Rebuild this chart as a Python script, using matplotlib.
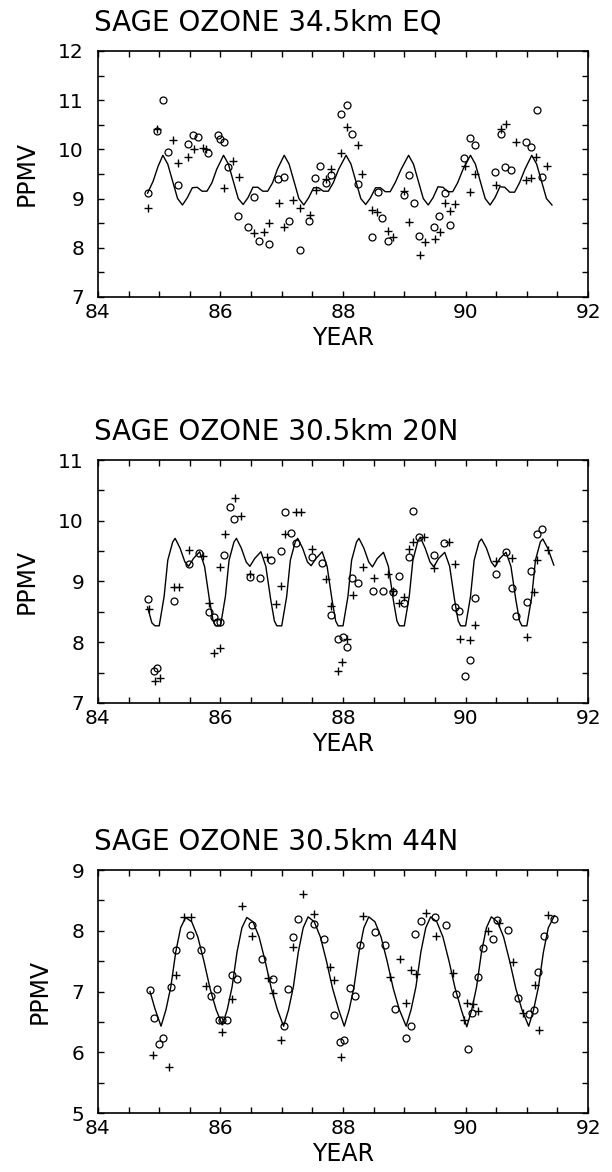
import matplotlib
matplotlib.use("Agg")
import matplotlib.pyplot as plt
from matplotlib.ticker import MultipleLocator

# ---- 34.5 km, equator ----
eq_obs1_x = [84.81, 84.97, 85.07, 85.14, 85.31, 85.47, 85.55, 85.63, 85.79, 85.96,
             85.99, 86.05, 86.12, 86.29, 86.45, 86.54, 86.63, 86.79, 86.94, 87.03,
             87.12, 87.29, 87.45, 87.54, 87.63, 87.72, 87.80, 87.97, 88.06, 88.14,
             88.24, 88.48, 88.57, 88.64, 88.74, 88.99, 89.07, 89.16, 89.24, 89.49,
             89.57, 89.66, 89.74, 89.98, 90.08, 90.16, 90.48, 90.58, 90.65, 90.74,
             90.99, 91.07, 91.16, 91.24]
eq_obs1_y = [9.11, 10.37, 11.00, 9.95, 9.27, 10.11, 10.29, 10.25, 9.93, 10.30,
             10.22, 10.15, 9.65, 8.64, 8.42, 9.04, 8.14, 8.08, 9.40, 9.43,
             8.54, 7.95, 8.54, 9.41, 9.67, 9.31, 9.47, 10.72, 10.90, 10.32,
             9.30, 8.22, 9.14, 8.61, 8.14, 9.07, 9.47, 8.92, 8.24, 8.42,
             8.64, 9.11, 8.46, 9.82, 10.24, 10.09, 9.54, 10.32, 9.64, 9.59,
             10.14, 10.05, 10.81, 9.44]
eq_obs2_x = [84.82, 84.97, 85.23, 85.31, 85.47, 85.56, 85.71, 85.77, 86.05, 86.21,
             86.30, 86.54, 86.71, 86.79, 86.95, 87.03, 87.19, 87.29, 87.46, 87.56,
             87.72, 87.80, 87.97, 88.06, 88.24, 88.31, 88.48, 88.56, 88.74, 88.82,
             89.00, 89.07, 89.25, 89.33, 89.50, 89.58, 89.66, 89.74, 89.83, 89.99,
             90.08, 90.16, 90.49, 90.58, 90.66, 90.83, 90.99, 91.07, 91.15, 91.33]
eq_obs2_y = [8.80, 10.42, 10.19, 9.73, 9.84, 10.01, 10.03, 10.00, 9.22, 9.76,
             9.44, 8.31, 8.33, 8.50, 8.92, 8.43, 8.98, 8.80, 8.67, 9.17,
             9.39, 9.61, 9.92, 10.46, 10.08, 9.49, 8.76, 8.73, 8.34, 8.22,
             9.15, 8.52, 7.85, 8.12, 8.17, 8.33, 8.91, 8.74, 8.90, 9.66,
             9.13, 9.49, 9.27, 10.41, 10.52, 10.14, 9.38, 9.42, 9.85, 9.66]
eq_fit_x = [84.81, 84.90, 84.98,
            85.06, 85.14, 85.22, 85.30, 85.38, 85.46, 85.54, 85.62, 85.70, 85.78, 85.86, 85.94,
            86.05, 86.13, 86.21, 86.29, 86.37, 86.45, 86.53, 86.61, 86.69, 86.77, 86.85, 86.93,
            87.04, 87.12, 87.20, 87.28, 87.36, 87.44, 87.52, 87.60, 87.68, 87.76, 87.84, 87.93,
            88.05, 88.13, 88.21, 88.29, 88.37, 88.45, 88.53, 88.61, 88.69, 88.77, 88.85, 88.95,
            89.07, 89.15, 89.23, 89.31, 89.39, 89.47, 89.55, 89.63, 89.71, 89.79, 89.87, 89.96,
            90.08, 90.16, 90.24, 90.32, 90.40, 90.48, 90.56, 90.64, 90.72, 90.80, 90.88, 90.97,
            91.08, 91.16, 91.24, 91.32, 91.41]
eq_fit_y = [9.11, 9.35, 9.65,
            9.88, 9.70, 9.35, 9.00, 8.87, 9.02, 9.22, 9.23, 9.15, 9.15, 9.32, 9.60,
            9.88, 9.70, 9.35, 9.00, 8.88, 9.02, 9.23, 9.23, 9.15, 9.15, 9.32, 9.60,
            9.88, 9.70, 9.35, 9.00, 8.87, 9.02, 9.22, 9.22, 9.15, 9.15, 9.32, 9.60,
            9.88, 9.70, 9.35, 9.00, 8.88, 9.02, 9.22, 9.22, 9.14, 9.14, 9.32, 9.60,
            9.88, 9.70, 9.35, 9.00, 8.87, 9.02, 9.24, 9.23, 9.14, 9.14, 9.32, 9.60,
            9.88, 9.70, 9.35, 9.00, 8.87, 9.02, 9.24, 9.23, 9.13, 9.13, 9.32, 9.60,
            9.88, 9.70, 9.35, 9.00, 8.87]

# ---- 30.5 km, 20N ----
n20_obs1_x = [84.82, 84.92, 84.97, 85.24, 85.49, 85.65, 85.81, 85.90, 85.94, 85.99,
              86.06, 86.15, 86.22, 86.49, 86.65, 86.82, 86.98, 87.06, 87.15, 87.24,
              87.49, 87.66, 87.81, 87.92, 88.00, 88.07, 88.15, 88.24, 88.49, 88.65,
              88.82, 88.91, 88.99, 89.07, 89.15, 89.24, 89.49, 89.65, 89.82, 89.90,
              89.99, 90.07, 90.15, 90.49, 90.66, 90.75, 90.83, 91.00, 91.07, 91.16,
              91.25]
n20_obs1_y = [8.71, 7.52, 7.58, 8.68, 9.28, 9.47, 8.50, 8.42, 8.34, 8.34,
              9.44, 10.23, 10.03, 9.08, 9.06, 9.35, 9.51, 10.14, 9.80, 9.63,
              9.40, 9.30, 8.45, 8.05, 8.08, 7.92, 9.06, 8.97, 8.85, 8.85,
              8.83, 9.09, 8.65, 9.41, 10.16, 9.73, 9.44, 9.64, 8.58, 8.52,
              7.44, 7.70, 8.73, 9.12, 9.49, 8.89, 8.43, 8.66, 9.18, 9.78,
              9.87]
n20_obs2_x = [84.84, 84.93, 85.01, 85.24, 85.32, 85.49, 85.72, 85.82, 85.90, 85.99,
              86.00, 86.07, 86.24, 86.33, 86.49, 86.76, 86.90, 86.98, 87.06, 87.23,
              87.31, 87.50, 87.73, 87.81, 87.91, 87.99, 88.06, 88.16, 88.32, 88.50,
              88.74, 88.82, 88.91, 89.00, 89.07, 89.15, 89.32, 89.49, 89.73, 89.82,
              89.91, 90.08, 90.16, 90.49, 90.76, 91.01, 91.11, 91.17, 91.35]
n20_obs2_y = [8.55, 7.36, 7.41, 8.91, 8.91, 9.52, 9.42, 8.64, 7.83, 9.24,
              7.90, 9.79, 10.38, 10.08, 9.12, 9.41, 8.63, 8.93, 9.79, 10.15,
              10.15, 9.53, 9.04, 8.60, 7.52, 7.68, 8.06, 8.78, 9.24, 9.05,
              9.13, 8.85, 8.65, 8.75, 9.54, 9.65, 9.73, 9.23, 9.65, 9.28,
              8.05, 8.03, 8.29, 9.33, 9.39, 8.08, 8.83, 9.35, 9.52]
n20_fit_x = [84.81, 84.88, 84.93, 85.00,
             85.08, 85.14, 85.22, 85.26, 85.34, 85.42, 85.48, 85.56, 85.66, 85.74, 85.82, 85.88, 85.92, 86.00,
             86.08, 86.14, 86.22, 86.26, 86.34, 86.42, 86.48, 86.56, 86.66, 86.74, 86.82, 86.88, 86.92, 87.00,
             87.08, 87.14, 87.22, 87.26, 87.34, 87.42, 87.48, 87.56, 87.66, 87.74, 87.82, 87.88, 87.92, 88.00,
             88.08, 88.14, 88.22, 88.26, 88.34, 88.42, 88.48, 88.56, 88.66, 88.74, 88.82, 88.88, 88.92, 89.00,
             89.08, 89.14, 89.22, 89.26, 89.34, 89.42, 89.48, 89.56, 89.66, 89.74, 89.82, 89.88, 89.92, 90.00,
             90.08, 90.14, 90.22, 90.26, 90.34, 90.42, 90.48, 90.56, 90.66, 90.74, 90.82, 90.88, 90.92, 91.00,
             91.08, 91.14, 91.22, 91.26, 91.34, 91.44]
n20_fit_y = [8.58, 8.32, 8.27, 8.27,
             8.75, 9.35, 9.65, 9.71, 9.55, 9.32, 9.25, 9.38, 9.49, 9.25, 8.70, 8.35, 8.27, 8.27,
             8.75, 9.35, 9.65, 9.71, 9.55, 9.32, 9.25, 9.38, 9.49, 9.25, 8.70, 8.35, 8.27, 8.27,
             8.75, 9.35, 9.65, 9.71, 9.55, 9.32, 9.26, 9.38, 9.49, 9.25, 8.70, 8.35, 8.27, 8.27,
             8.75, 9.35, 9.65, 9.71, 9.55, 9.32, 9.24, 9.38, 9.48, 9.25, 8.70, 8.35, 8.27, 8.27,
             8.75, 9.35, 9.66, 9.73, 9.55, 9.32, 9.24, 9.38, 9.48, 9.25, 8.70, 8.35, 8.27, 8.27,
             8.75, 9.35, 9.65, 9.70, 9.55, 9.32, 9.24, 9.38, 9.48, 9.25, 8.70, 8.35, 8.27, 8.27,
             8.75, 9.35, 9.65, 9.70, 9.55, 9.27]

# ---- 30.5 km, 44N ----
n44_obs1_x = [84.85, 84.92, 85.00, 85.07, 85.19, 85.27, 85.51, 85.68, 85.84, 85.94,
              85.98, 86.03, 86.10, 86.18, 86.27, 86.52, 86.68, 86.85, 87.03, 87.11,
              87.19, 87.26, 87.52, 87.69, 87.85, 87.95, 88.02, 88.11, 88.19, 88.27,
              88.52, 88.69, 88.85, 89.03, 89.11, 89.18, 89.27, 89.50, 89.68, 89.85,
              90.04, 90.11, 90.20, 90.28, 90.45, 90.51, 90.70, 90.86, 91.03, 91.11,
              91.19, 91.28, 91.45]
n44_obs1_y = [7.02, 6.57, 6.13, 6.23, 7.08, 7.69, 7.93, 7.69, 6.93, 7.05,
              6.53, 6.53, 6.53, 7.28, 7.20, 8.10, 7.54, 7.20, 6.43, 7.05,
              7.90, 8.20, 8.12, 7.87, 6.62, 6.17, 6.21, 7.06, 6.92, 7.76,
              7.98, 7.76, 6.71, 6.23, 6.43, 7.94, 8.16, 8.23, 8.10, 6.96,
              6.05, 6.65, 7.24, 7.71, 7.86, 8.18, 8.02, 6.90, 6.63, 6.69,
              7.33, 7.91, 8.19]
n44_obs2_x = [84.90, 85.16, 85.27, 85.41, 85.52, 85.77, 86.02, 86.19, 86.35, 86.52,
              86.78, 86.86, 86.98, 87.19, 87.34, 87.52, 87.78, 87.86, 87.97, 88.33,
              88.77, 88.93, 89.03, 89.11, 89.19, 89.35, 89.52, 89.79, 89.97, 90.02,
              90.12, 90.20, 90.36, 90.54, 90.78, 90.94, 91.13, 91.20, 91.35]
n44_obs2_y = [5.95, 5.76, 7.28, 8.22, 8.22, 7.09, 6.34, 6.87, 8.41, 7.91,
              7.22, 6.97, 6.20, 7.74, 8.60, 8.27, 7.40, 7.19, 5.93, 8.24,
              7.24, 7.53, 6.81, 7.35, 7.29, 8.29, 7.91, 7.31, 6.54, 6.81,
              6.80, 6.68, 8.00, 8.13, 7.49, 6.65, 7.11, 6.36, 8.26]
n44_fit_x = [84.85, 84.93, 85.03,
             85.11, 85.19, 85.27, 85.35, 85.43, 85.53, 85.63, 85.73, 85.83, 85.93, 86.03,
             86.11, 86.19, 86.27, 86.35, 86.43, 86.53, 86.63, 86.73, 86.83, 86.93, 87.03,
             87.11, 87.19, 87.27, 87.35, 87.43, 87.53, 87.63, 87.73, 87.83, 87.93, 88.02,
             88.10, 88.18, 88.26, 88.34, 88.42, 88.52, 88.62, 88.72, 88.82, 88.92, 89.03,
             89.11, 89.19, 89.27, 89.35, 89.43, 89.53, 89.63, 89.73, 89.83, 89.93, 90.02,
             90.10, 90.18, 90.26, 90.34, 90.42, 90.52, 90.62, 90.72, 90.82, 90.92, 91.03,
             91.11, 91.19, 91.27, 91.35, 91.45]
n44_fit_y = [7.00, 6.72, 6.43,
             6.70, 7.08, 7.65, 8.05, 8.22, 8.15, 7.90, 7.50, 7.05, 6.70, 6.45,
             6.70, 7.08, 7.65, 8.05, 8.22, 8.15, 7.90, 7.50, 7.05, 6.70, 6.43,
             6.70, 7.08, 7.65, 8.05, 8.23, 8.15, 7.90, 7.50, 7.05, 6.70, 6.43,
             6.70, 7.08, 7.65, 8.05, 8.23, 8.15, 7.90, 7.50, 7.05, 6.70, 6.43,
             6.70, 7.08, 7.65, 8.05, 8.23, 8.15, 7.90, 7.50, 7.05, 6.70, 6.42,
             6.70, 7.08, 7.65, 8.05, 8.23, 8.15, 7.90, 7.50, 7.05, 6.70, 6.43,
             6.70, 7.08, 7.65, 8.05, 8.25]

panels = [
    ("SAGE OZONE 34.5km EQ", (7, 12), eq_obs1_x, eq_obs1_y, eq_obs2_x, eq_obs2_y, eq_fit_x, eq_fit_y),
    ("SAGE OZONE 30.5km 20N", (7, 11), n20_obs1_x, n20_obs1_y, n20_obs2_x, n20_obs2_y, n20_fit_x, n20_fit_y),
    ("SAGE OZONE 30.5km 44N", (5, 9), n44_obs1_x, n44_obs1_y, n44_obs2_x, n44_obs2_y, n44_fit_x, n44_fit_y),
]

# axes boxes in figure fractions (left, bottom, width, height)
boxes = [(0.160, 0.7466, 0.801, 0.2099),
         (0.160, 0.4002, 0.801, 0.2073),
         (0.160, 0.0503, 0.801, 0.2073)]

fig = plt.figure(figsize=(6.12, 11.72), dpi=100)

for (title, ylim, ox, oy, px, py, fx, fy), box in zip(panels, boxes):
    ax = fig.add_axes(box)
    ax.plot(fx, fy, color="black", lw=1.0)
    ax.plot(ox, oy, "o", ls="none", mfc="none", mec="black", ms=5, mew=0.9)
    ax.plot(px, py, "+", ls="none", color="black", ms=6, mew=1.0)

    ax.set_xlim(84, 92)
    ax.set_ylim(*ylim)
    ax.xaxis.set_major_locator(MultipleLocator(2))
    ax.xaxis.set_minor_locator(MultipleLocator(0.5))
    ax.yaxis.set_major_locator(MultipleLocator(1))
    ax.yaxis.set_minor_locator(MultipleLocator(0.5))
    ax.tick_params(which="both", direction="in", top=True, right=True,
                   length=4.5, width=1.0, labelsize=14.5)
    ax.tick_params(axis="x", pad=4)
    ax.tick_params(axis="y", pad=10)
    for s in ax.spines.values():
        s.set_linewidth(1.2)

    ax.set_xlabel("YEAR", fontsize=17, labelpad=3)
    ax.set_ylabel("PPMV", fontsize=17, labelpad=14)

    x0, y0, w, h = box
    fig.text(0.153, y0 + h + 0.024, title, fontsize=20, ha="left", va="center")

fig.savefig("out.png", dpi=100)
